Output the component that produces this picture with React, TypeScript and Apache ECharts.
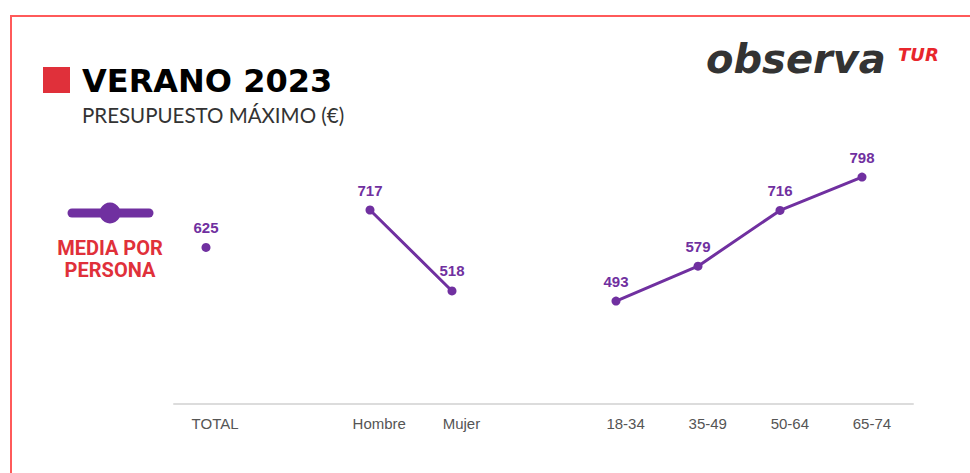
import React, { useEffect, useRef } from "react";
import * as echarts from "echarts";

const categories = ["TOTAL", "", "Hombre", "Mujer", "", "18-34", "35-49", "50-64", "65-74"];
const values: (number | null)[] = [625, null, 717, 518, null, 493, 579, 716, 798];
const yMin = 240;
const yMax = 840;

const PURPLE = "#7030A0";
const RED = "#e0303a";

export default function App() {
  const ref = useRef<HTMLDivElement>(null);
  useEffect(() => {
    if (!ref.current) return;
    const chart = echarts.init(ref.current, undefined, { renderer: "svg" });
    chart.setOption({
      animation: false,
      backgroundColor: "#ffffff",
      grid: [
        { left: 206, right: 108, top: 160, bottom: 69 },
        { left: 174, right: 57, top: 160, bottom: 69 },
      ],
      xAxis: [
        {
          type: "category",
          gridIndex: 0,
          data: categories,
          boundaryGap: false,
          axisLine: { show: false },
          axisTick: { show: false },
          axisLabel: { show: false },
          splitLine: { show: false },
        },
        {
          type: "category",
          gridIndex: 1,
          data: categories,
          boundaryGap: true,
          axisLine: { show: true, lineStyle: { color: "#dcdcdc", width: 2 } },
          axisTick: { show: false },
          axisLabel: {
            show: true,
            color: "#555555",
            fontSize: 15,
            fontFamily: "Liberation Sans, Arial, sans-serif",
            margin: 12,
            interval: 0,
          },
          splitLine: { show: false },
        },
      ],
      yAxis: [
        { type: "value", gridIndex: 0, min: yMin, max: yMax, show: false, splitLine: { show: false } },
        { type: "value", gridIndex: 1, min: yMin, max: yMax, show: false, splitLine: { show: false } },
      ],
      series: [
        {
          type: "line",
          xAxisIndex: 0,
          yAxisIndex: 0,
          data: values,
          connectNulls: false,
          symbol: "circle",
          symbolSize: 9,
          lineStyle: { color: PURPLE, width: 3 },
          itemStyle: { color: PURPLE },
          label: {
            show: true,
            position: "top",
            distance: 8,
            color: PURPLE,
            fontSize: 15,
            fontWeight: "bold",
            fontFamily: "Liberation Sans, Arial, sans-serif",
          },
        },
      ],
      graphic: [
        {
          type: "rect",
          silent: true,
          shape: { x: 11, y: 16, width: 980, height: 480 },
          style: { fill: "none", stroke: "#ff5a5a", lineWidth: 2 },
        },
        {
          type: "rect",
          silent: true,
          shape: { x: 43, y: 67, width: 27, height: 26 },
          style: { fill: RED },
        },
        {
          type: "text",
          silent: true,
          x: 82,
          y: 81,
          style: {
            text: "VERANO 2023",
            fill: "#000000",
            font: "bold 32px 'DejaVu Sans'",
            verticalAlign: "middle",
            align: "left",
          },
        },
        {
          type: "text",
          silent: true,
          x: 82,
          y: 115,
          style: {
            text: "PRESUPUESTO MÁXIMO (€)",
            fill: "#333333",
            font: "20.5px Lato",
            verticalAlign: "middle",
            align: "left",
          },
        },
        {
          type: "text",
          silent: true,
          x: 706,
          y: 59,
          style: {
            text: "observa",
            fill: "#333333",
            font: "italic bold 40px 'DejaVu Sans'",
            verticalAlign: "middle",
            align: "left",
          },
        },
        {
          type: "text",
          silent: true,
          x: 898,
          y: 54,
          style: {
            text: "TUR",
            fill: "#e8262c",
            font: "italic bold 18px 'DejaVu Sans'",
            verticalAlign: "middle",
            align: "left",
          },
        },
        {
          type: "line",
          silent: true,
          shape: { x1: 72, y1: 213, x2: 149, y2: 213 },
          style: { stroke: PURPLE, lineWidth: 9, lineCap: "round" },
        },
        {
          type: "circle",
          silent: true,
          shape: { cx: 110, cy: 213, r: 10.5 },
          style: { fill: PURPLE },
        },
        {
          type: "text",
          silent: true,
          x: 110,
          y: 248,
          style: {
            text: "MEDIA POR",
            fill: RED,
            font: "bold 20px Roboto",
            verticalAlign: "middle",
            align: "center",
          },
        },
        {
          type: "text",
          silent: true,
          x: 110,
          y: 270,
          style: {
            text: "PERSONA",
            fill: RED,
            font: "bold 20px Roboto",
            verticalAlign: "middle",
            align: "center",
          },
        },
      ],
    });
    return () => chart.dispose();
  }, []);
  return (
    <div
      ref={ref}
      style={{ position: "fixed", left: 0, top: 0, width: 970, height: 473 }}
    />
  );
}
